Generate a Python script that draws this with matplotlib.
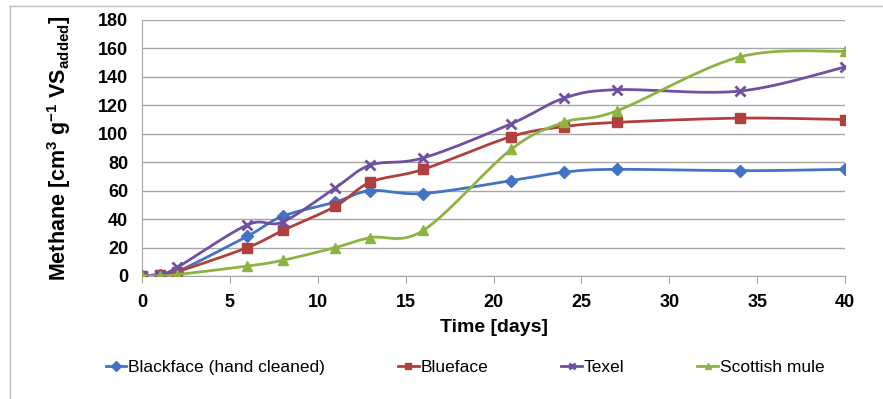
import numpy as np
import matplotlib.pyplot as plt
from matplotlib.lines import Line2D

# data
days = [0, 1, 2, 6, 8, 11, 13, 16, 21, 24, 27, 34, 40]
blackface = [0, 1, 3, 28, 42, 52, 60, 58, 67, 73, 75, 74, 75]
blueface = [0, 1, 3, 20, 32, 49, 66, 75, 98, 105, 108, 111, 110]
texel = [0, 1, 6, 36, 38, 62, 78, 83, 107, 125, 131, 130, 147]
scottish_mule = [0, 0, 1, 7, 11, 20, 27, 32, 89, 108, 116, 154, 158]

series = [
    ("Blackface (hand cleaned)", blackface, "#4472C4", "D", 6),
    ("Blueface", blueface, "#B0403D", "s", 7),
    ("Texel", texel, "#7050A0", "x", 7),
    ("Scottish mule", scottish_mule, "#8DB443", "^", 7),
]

plt.rcParams["font.family"] = ["Liberation Sans", "DejaVu Sans"]
plt.rcParams["mathtext.fontset"] = "custom"
plt.rcParams["mathtext.rm"] = "Liberation Sans:bold"
plt.rcParams["mathtext.it"] = "Liberation Sans:bold"
plt.rcParams["mathtext.bf"] = "Liberation Sans:bold"


def smooth(x, y, n=20):
    # Excel-like smoothed line: cubic Bezier segments with 1/6 tangents
    x = np.asarray(x, float)
    y = np.asarray(y, float)
    px = np.concatenate([[x[0]], x, [x[-1]]])
    py = np.concatenate([[y[0]], y, [y[-1]]])
    xs, ys, idx = [], [], []
    t = np.linspace(0, 1, n, endpoint=False)
    for i in range(len(x) - 1):
        p0 = np.array([px[i + 1], py[i + 1]])
        p3 = np.array([px[i + 2], py[i + 2]])
        c1 = p0 + (p3 - np.array([px[i], py[i]])) / 6
        c2 = p3 - (np.array([px[i + 3], py[i + 3]]) - p0) / 6
        idx.append(len(xs))
        for tt in t:
            b = ((1 - tt) ** 3) * p0 + 3 * ((1 - tt) ** 2) * tt * c1 \
                + 3 * (1 - tt) * tt ** 2 * c2 + tt ** 3 * p3
            xs.append(b[0])
            ys.append(b[1])
    idx.append(len(xs))
    xs.append(x[-1])
    ys.append(y[-1])
    return xs, ys, idx


fig = plt.figure(figsize=(8.83, 3.99), dpi=100)
ax = fig.add_axes([142 / 883, 1 - 276 / 399, (845 - 142) / 883, (276 - 20) / 399])

handles = []
for name, vals, color, marker, ms in series:
    sx, sy, idx = smooth(days, vals)
    mew = 2 if marker == "x" else 1
    ax.plot(sx, sy, color=color, lw=2, marker=marker, markersize=ms,
            markevery=idx, markeredgewidth=mew, zorder=3)
    handles.append(Line2D([], [], color=color, lw=2, marker=marker,
                          markersize=5, markeredgewidth=mew, label=name))

ax.set_xlim(0, 40)
ax.set_ylim(0, 180)
ax.set_xticks(range(0, 41, 5))
ax.set_yticks(range(0, 181, 20))
ax.grid(axis="y", color="#A6A6A6", lw=1)
ax.set_axisbelow(True)
for side in ("top", "right"):
    ax.spines[side].set_visible(False)
ax.spines["left"].set_color("#A6A6A6")
ax.spines["bottom"].set_color("#A6A6A6")
ax.tick_params(axis="y", length=0, pad=10, labelsize=13)
ax.tick_params(axis="x", length=5, color="#A6A6A6", direction="out", pad=8, labelsize=13)
for lab in ax.get_xticklabels() + ax.get_yticklabels():
    lab.set_fontweight("bold")

ax.set_xlabel("Time [days]", fontsize=14, fontweight="bold", labelpad=6)
ax.set_ylabel(r"Methane [cm$^{3}$ g$^{-1}$ VS$_{added}$]",
              fontsize=15.5, fontweight="bold", labelpad=18)

fig.legend(handles=handles, loc="center", bbox_to_anchor=(465 / 883, 1 - 367 / 399),
           ncol=4, frameon=False, fontsize=12.5, handlelength=1.2,
           handletextpad=0.1, columnspacing=4.2)

# chart border (cropped on right and bottom)
fig.add_artist(Line2D([10 / 883, 1], [1 - 6 / 399] * 2, color="#BFBFBF", lw=1,
                      transform=fig.transFigure))
fig.add_artist(Line2D([10 / 883] * 2, [0, 1 - 6 / 399], color="#BFBFBF", lw=1,
                      transform=fig.transFigure))

fig.savefig("out.png", dpi=100)
